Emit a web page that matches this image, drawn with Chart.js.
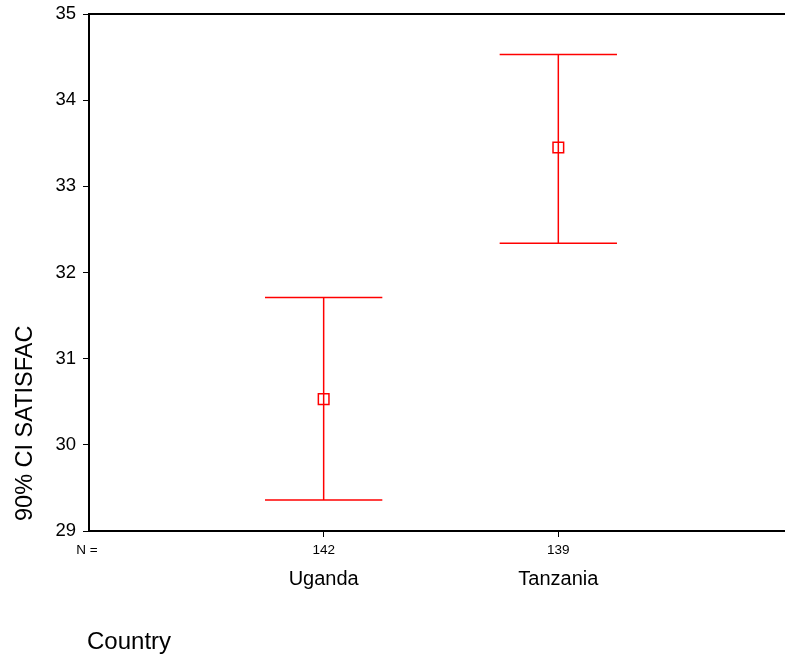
<!DOCTYPE html>
<html>
<head>
<meta charset="utf-8">
<script src="https://cdn.jsdelivr.net/npm/chart.js@4"></script>
<style>
  html, body { margin: 0; padding: 0; background: #fff; overflow: hidden; }
  #wrap { width: 785px; height: 659px; position: relative; }
</style>
</head>
<body>
<div id="wrap"><canvas id="chart"></canvas></div>
<script>
// Error bar chart: mean and 90% confidence interval of SATISFAC by country
const countries = ['Uganda', 'Tanzania'];
const counts = [142, 139];
const means = [30.53, 33.45];
const lower = [29.36, 32.34];
const upper = [31.71, 34.53];
const yTicks = [29, 30, 31, 32, 33, 34, 35];

const FONT = '"Liberation Sans", Arial, Helvetica, sans-serif';
const RED = '#ff0000';
const CAP = 0.25; // half width of the whisker caps, in category units

const seg = (pts) => ({
  type: 'line',
  data: pts,
  borderColor: RED,
  borderWidth: 1.5,
  pointRadius: 0,
  fill: false,
  tension: 0
});

const datasets = [];
countries.forEach((c, i) => {
  const x = i + 1;
  datasets.push(seg([{ x: x, y: lower[i] }, { x: x, y: upper[i] }]));
  datasets.push(seg([{ x: x - CAP, y: upper[i] }, { x: x + CAP, y: upper[i] }]));
  datasets.push(seg([{ x: x - CAP, y: lower[i] }, { x: x + CAP, y: lower[i] }]));
});
datasets.push({
  type: 'scatter',
  data: means.map((m, i) => ({ x: i + 1, y: m })),
  pointStyle: 'rect',
  pointRadius: 7.5,
  pointBorderColor: RED,
  pointBackgroundColor: 'rgba(0,0,0,0)',
  pointBorderWidth: 1.5
});

// Frame top line and the text around the axes
const decorations = {
  id: 'decorations',
  afterDraw(chart) {
    const { ctx, chartArea } = chart;
    const xs = chart.scales.x;
    ctx.save();
    ctx.strokeStyle = '#000';
    ctx.lineWidth = 2;
    ctx.beginPath();
    ctx.moveTo(chartArea.left - 1, chartArea.top);
    ctx.lineTo(chartArea.right, chartArea.top);
    ctx.stroke();

    ctx.fillStyle = '#000';
    // counts row
    ctx.font = '13.5px ' + FONT;
    ctx.textBaseline = 'alphabetic';
    ctx.textAlign = 'center';
    ctx.fillText('N =', chartArea.left - 2, 553.5);
    counts.forEach((n, i) => ctx.fillText(String(n), xs.getPixelForValue(i + 1), 554));

    // category names
    ctx.font = '20px ' + FONT;
    countries.forEach((c, i) => ctx.fillText(c, xs.getPixelForValue(i + 1), 585));

    // x title
    ctx.textAlign = 'left';
    ctx.font = '24px ' + FONT;
    ctx.fillText('Country', 87, 649);

    // y title
    ctx.translate(32, 521);
    ctx.rotate(-Math.PI / 2);
    ctx.font = '23.5px ' + FONT;
    ctx.fillText('90% CI SATISFAC', 0, 0);
    ctx.restore();
  }
};

new Chart(document.getElementById('chart'), {
  type: 'scatter',
  data: { datasets },
  options: {
    responsive: true,
    maintainAspectRatio: false,
    animation: false,
    devicePixelRatio: 1,
    layout: { autoPadding: false, padding: { top: 14, right: 0, left: 0, bottom: 0 } },
    plugins: { legend: { display: false }, tooltip: { enabled: false } },
    scales: {
      x: {
        type: 'linear',
        min: 0,
        max: 2.966,
        afterBuildTicks(scale) {
          scale.ticks = countries.map((c, i) => ({ value: i + 1 }));
        },
        afterFit(scale) { scale.height = 128; scale.paddingLeft = 0; scale.paddingRight = 0; },
        ticks: { display: false },
        grid: { drawOnChartArea: false, drawTicks: true, tickLength: 6, color: '#000', lineWidth: 1 },
        border: { display: true, color: '#000', width: 2 }
      },
      y: {
        type: 'linear',
        min: 29,
        max: 35,
        afterBuildTicks(scale) {
          scale.ticks = yTicks.map(v => ({ value: v }));
        },
        afterFit(scale) { scale.width = 89; scale.paddingTop = 0; scale.paddingBottom = 0; },
        ticks: { color: '#000', font: { family: FONT, size: 18.5 }, padding: 7 },
        grid: { drawOnChartArea: false, drawTicks: true, tickLength: 6, color: '#000', lineWidth: 1 },
        border: { display: true, color: '#000', width: 2 }
      }
    }
  },
  plugins: [decorations]
});
</script>
</body>
</html>
